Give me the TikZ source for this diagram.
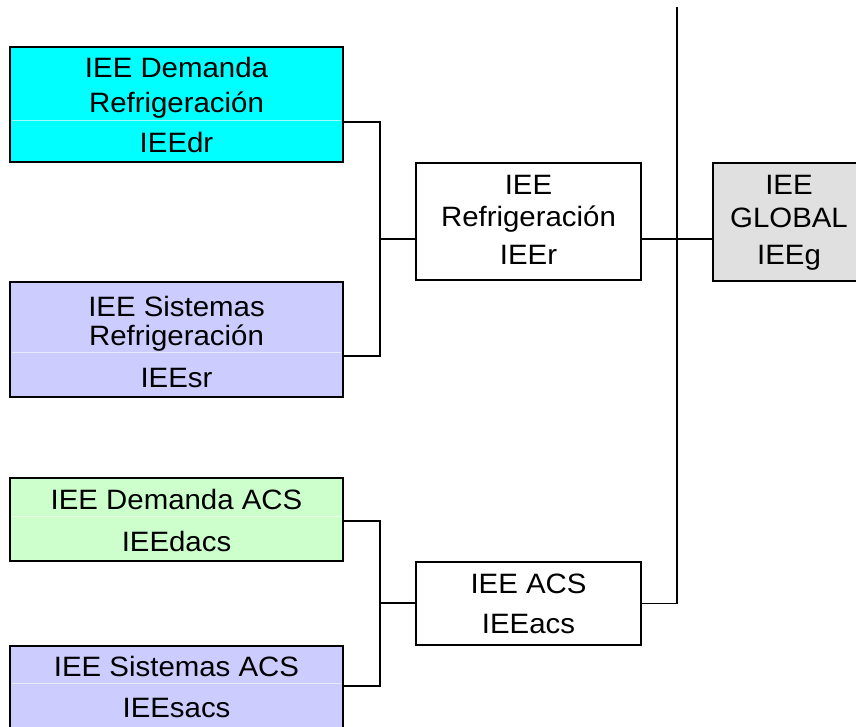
\documentclass[tikz,border=0pt]{standalone}
\usepackage{fontspec}
\setmainfont{Liberation Sans}[FakeStretch=1.05]
\usetikzlibrary{calc}
\definecolor{cyanbox}{RGB}{0,255,255}
\definecolor{lavbox}{RGB}{204,204,255}
\definecolor{greenbox}{RGB}{204,255,204}
\definecolor{graybox}{RGB}{224,224,224}
\begin{document}
\begin{tikzpicture}[x=1pt,y=-1pt,
  part/.style={rectangle, inner sep=0pt, outer sep=0pt, draw=none, anchor=north west, minimum width=333pt},
  txt/.style={anchor=base, inner sep=0pt, font=\fontsize{28}{32}\selectfont},
  frame/.style={draw=black, line width=1.3pt},
  wire/.style={draw=black, line width=1.3pt},
  divider/.style={draw=white, line width=0.8pt, opacity=0.6}]
\useasboundingbox[fill=white] (0,0) rectangle (856,727);

% ---- box parts ----
\node[part, fill=cyanbox, minimum height=73pt] (drT) at (10,47) {};
\node[part, fill=cyanbox, minimum height=42pt] (drB) at (10,120) {};
\node[part, fill=lavbox, minimum height=70pt] (srT) at (10,282) {};
\node[part, fill=lavbox, minimum height=45pt] (srB) at (10,352) {};
\node[part, fill=greenbox, minimum height=38pt] (dacsT) at (10,478) {};
\node[part, fill=greenbox, minimum height=45pt] (dacsB) at (10,516) {};
\node[part, fill=lavbox, minimum height=37pt] (sacsT) at (10,646) {};
\node[part, fill=lavbox, minimum height=44pt] (sacsB) at (10,683) {};
\node[part, draw=black, line width=1.3pt, fill=white, minimum width=225pt, minimum height=117pt] (r) at (416,163) {};
\node[part, draw=black, line width=1.3pt, fill=white, minimum width=225pt, minimum height=83pt] (acs) at (416,562) {};
\node[part, fill=graybox, minimum width=143pt, minimum height=118pt] (g) at (713,163) {};

% ---- frames ----
\draw[frame] (drT.north west) rectangle (drB.south east);
\draw[frame] (srT.north west) rectangle (srB.south east);
\draw[frame] (dacsT.north west) rectangle (dacsB.south east);
\draw[frame] (sacsB.south west) -- (sacsT.north west) -- (sacsT.north east) -- (sacsB.south east);
\draw[frame] (g.north east) -- (g.north west) -- (g.south west) -- (g.south east);

% ---- faint dividers ----
\draw[divider] ([xshift=2pt]drB.north west) -- ([xshift=-2pt]drB.north east);
\draw[divider] ([xshift=2pt]srB.north west) -- ([xshift=-2pt]srB.north east);
\draw[divider] ([xshift=2pt]dacsB.north west) -- ([xshift=-2pt]dacsB.north east);
\draw[divider] ([xshift=2pt]sacsB.north west) -- ([xshift=-2pt]sacsB.north east);

% ---- texts ----
\node[txt] (drL1) at (176.5,78) {IEE Demanda};
\node[txt] (drL2) at (176.5,113) {Refrigeración};
\node[txt] (drL3) at (176.5,153) {IEEdr};
\node[txt] (srL1) at (176.5,316) {IEE Sistemas};
\node[txt] (srL2) at (176.5,345) {Refrigeración};
\node[txt] (srL3) at (176.5,387) {IEEsr};
\node[txt] (dacsL1) at (176.5,509) {IEE Demanda ACS};
\node[txt] (dacsL2) at (176.5,551) {IEEdacs};
\node[txt] (sacsL1) at (176.5,676) {IEE Sistemas ACS};
\node[txt] (sacsL2) at (176.5,717) {IEEsacs};
\node[txt] (rL1) at (528.5,195) {IEE};
\node[txt] (rL2) at (528.5,227) {Refrigeración};
\node[txt] (rL3) at (528.5,265) {IEEr};
\node[txt] (gL1) at (789,195) {IEE};
\node[txt] (gL2) at (789,228) {GLOBAL};
\node[txt] (gL3) at (789,265) {IEEg};
\node[txt] (acsL1) at (528.5,593) {IEE ACS};
\node[txt] (acsL2) at (528.5,633) {IEEacs};

% ---- connectors ----
\coordinate (jr) at (380,239);
\coordinate (ja) at (380,603);
\coordinate (jg) at (677,239);
\coordinate (spinetop) at (677,7);

\draw[wire] ([yshift=-2pt]drB.north east) -| (jr);
\draw[wire] ([yshift=-4pt]srB.north east) -| (jr);
\draw[wire] (jr) -- (r.west |- jr);
\draw[wire] ([yshift=-5pt]dacsB.north east) -| (ja);
\draw[wire] ([yshift=-3pt]sacsB.north east) -| (ja);
\draw[wire] (ja) -- (acs.west |- ja);
\draw[wire] (spinetop) |- (acs.east);
\draw[wire] (r.east |- jg) -- (g.west |- jg);
\end{tikzpicture}
\end{document}
